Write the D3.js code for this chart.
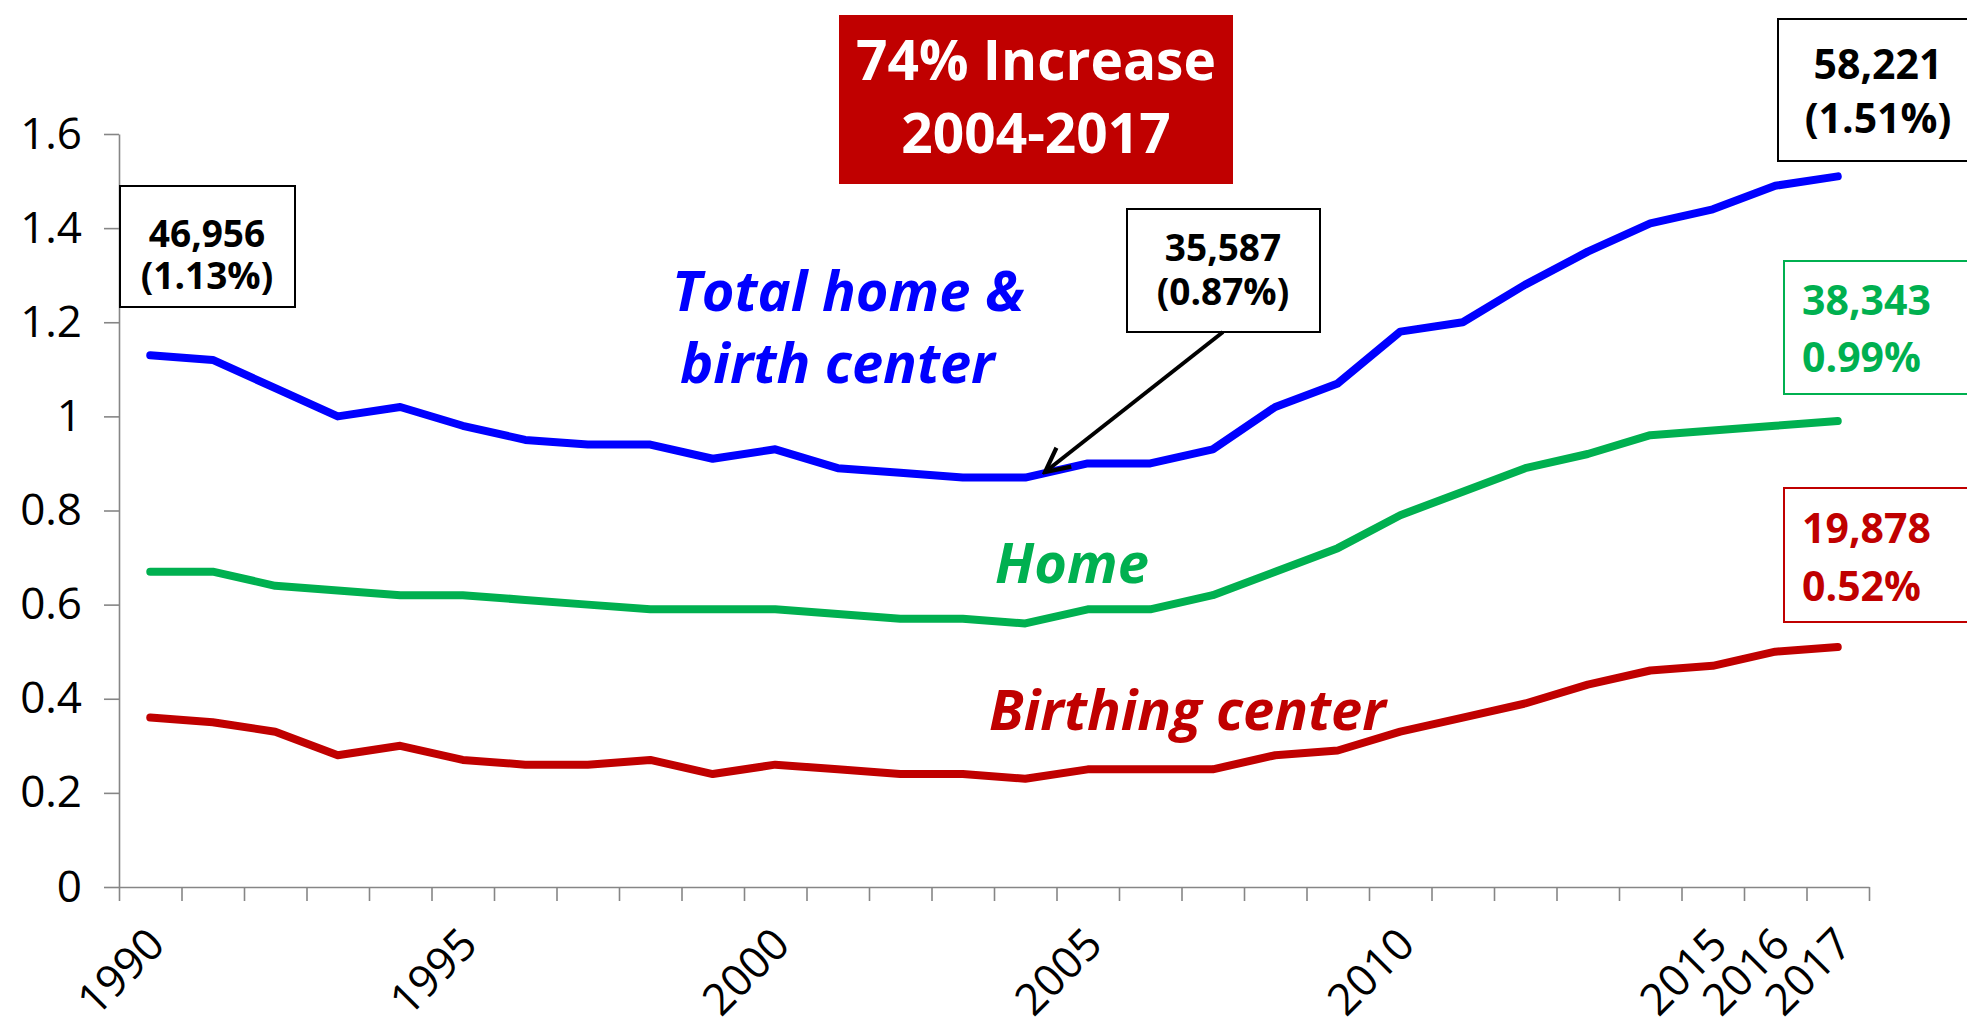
<!DOCTYPE html>
<html>
<head>
<meta charset="utf-8">
<script src="https://cdn.jsdelivr.net/npm/d3@7"></script>
<style>
body{margin:0;background:#fff}
svg{display:block;font-family:"Open Sans","Noto Sans",sans-serif}
</style>
</head>
<body>
<svg id="chart" width="1967" height="1017"></svg>
<script>
var years = [1990,1991,1992,1993,1994,1995,1996,1997,1998,1999,2000,2001,2002,2003,
             2004,2005,2006,2007,2008,2009,2010,2011,2012,2013,2014,2015,2016,2017]
var labelYears = [1990,1995,2000,2005,2010,2015,2016,2017]
// percent of all US births
var totalRate = [1.13,1.12,1.06,1.00,1.02,0.98,0.95,0.94,0.94,0.91,0.93,0.89,0.88,0.87,
                 0.87,0.90,0.90,0.93,1.02,1.07,1.18,1.20,1.28,1.35,1.41,1.44,1.49,1.51]
var homeRate = [0.67,0.67,0.64,0.63,0.62,0.62,0.61,0.60,0.59,0.59,0.59,0.58,0.57,0.57,
                0.56,0.59,0.59,0.62,0.67,0.72,0.79,0.84,0.89,0.92,0.96,0.97,0.98,0.99]
var centerRate = [0.36,0.35,0.33,0.28,0.30,0.27,0.26,0.26,0.27,0.24,0.26,0.25,0.24,0.24,
                  0.23,0.25,0.25,0.25,0.28,0.29,0.33,0.36,0.39,0.43,0.46,0.47,0.50,0.51]
var yTicks = [0,0.2,0.4,0.6,0.8,1,1.2,1.4,1.6]

var plotLeft = 119, plotRight = 1869, plotTop = 134, plotBottom = 887
var grey = "#868686"
var svg = d3.select("#chart")

var x = d3.scaleBand().domain(years).range([plotLeft,plotRight])
var xEdge = d3.scaleLinear().domain([0,years.length]).range([plotLeft,plotRight])
var y = d3.scaleLinear().domain([0,1.6]).range([plotBottom,plotTop])

function cx(yr){ return x(yr)+x.bandwidth()/2 }

// y axis
var gy = svg.append("g")
    .attr("transform","translate("+plotLeft+",0)")
    .call(d3.axisLeft(y).tickValues(yTicks).tickSize(15).tickSizeOuter(0).tickPadding(22)
        .tickFormat(function(d){ return d3.format("~g")(d) }))
gy.selectAll("path,line").attr("stroke",grey).attr("stroke-width",1.6)
gy.selectAll("text").attr("font-size",44).attr("fill","#000").attr("font-family","Open Sans")

// x axis (ticks between categories)
var gx = svg.append("g")
    .attr("transform","translate(0,"+plotBottom+")")
    .call(d3.axisBottom(xEdge).tickValues(d3.range(0,years.length+1)).tickSize(14)
        .tickSizeOuter(0).tickFormat(""))
gx.selectAll("path,line").attr("stroke",grey).attr("stroke-width",1.6)

svg.selectAll(".xlab")
    .data(labelYears)
    .enter()
    .append("text")
    .attr("class","xlab")
    .attr("transform",function(d){ return "translate("+(cx(d)+6)+",936) rotate(-45)" })
    .attr("text-anchor","end")
    .attr("dy","0.35em")
    .attr("font-size",44)
    .text(function(d){ return d })

// lines
var line = d3.line()
    .x(function(d,i){ return cx(years[i]) })
    .y(function(d){ return y(d) })

var series = [
    {vals:centerRate, color:"#C00000"},
    {vals:homeRate, color:"#00B050"},
    {vals:totalRate, color:"#0000FF"}
]
svg.selectAll(".series")
    .data(series)
    .enter()
    .append("path")
    .attr("class","series")
    .attr("d",function(d){ return line(d.vals) })
    .attr("fill","none")
    .attr("stroke",function(d){ return d.color })
    .attr("stroke-width",8)
    .attr("stroke-linecap","round")
    .attr("stroke-linejoin","round")

// series names
function italicLabel(txt,px,py,color){
    svg.append("text").text(txt).attr("x",px).attr("y",py)
        .attr("fill",color).attr("font-size",56).attr("font-weight","bold").attr("font-style","italic")
}
italicLabel("Total home &",672,311,"#0000FF")
italicLabel("birth center",680,383,"#0000FF")
italicLabel("Home",995,583,"#00B050")
italicLabel("Birthing center",989,730,"#C00000")

// title box
svg.append("rect").attr("x",839).attr("y",15).attr("width",394).attr("height",169).attr("fill","#C00000")
svg.append("text").text("74% Increase").attr("x",1036).attr("y",80)
    .attr("text-anchor","middle").attr("fill","#fff").attr("font-size",55).attr("font-weight","bold")
svg.append("text").text("2004-2017").attr("x",1036).attr("y",153)
    .attr("text-anchor","middle").attr("fill","#fff").attr("font-size",55).attr("font-weight","bold")

// callout boxes
function callout(bx,by,bw,bh,stroke,lines,tx,anchor,color,size){
    svg.append("rect").attr("x",bx).attr("y",by).attr("width",bw).attr("height",bh)
        .attr("fill","#fff").attr("stroke",stroke).attr("stroke-width",2)
    for(var i in lines){
        svg.append("text").text(lines[i].t).attr("x",tx).attr("y",lines[i].y)
            .attr("text-anchor",anchor).attr("fill",color)
            .attr("font-size",size).attr("font-weight","bold")
    }
}
callout(120,186,175,121,"#000",[{t:"46,956",y:247},{t:"(1.13%)",y:289}],207,"middle","#000",37)
callout(1127,209,193,123,"#000",[{t:"35,587",y:261},{t:"(0.87%)",y:305}],1223,"middle","#000",37)
callout(1778,19,260,142,"#000",[{t:"58,221",y:79},{t:"(1.51%)",y:133}],1878,"middle","#000",41)
callout(1784,261,260,133,"#00B050",[{t:"38,343",y:315},{t:"0.99%",y:372}],1802,"start","#00B050",41)
callout(1784,488,260,134,"#C00000",[{t:"19,878",y:543},{t:"0.52%",y:601}],1802,"start","#C00000",41)

// arrow to 2004 low
svg.append("defs").append("marker")
    .attr("id","arrow")
    .attr("viewBox","0 0 10 10")
    .attr("refX",9).attr("refY",5)
    .attr("markerWidth",30).attr("markerHeight",30)
    .attr("markerUnits","userSpaceOnUse")
    .attr("orient","auto")
    .append("path")
    .attr("d","M1,1 L9,5 L1,9")
    .attr("fill","none").attr("stroke","#000").attr("stroke-width",1.4)
svg.append("line")
    .attr("x1",1223).attr("y1",332).attr("x2",1045).attr("y2",472)
    .attr("stroke","#000").attr("stroke-width",4)
    .attr("marker-end","url(#arrow)")
</script>
</body>
</html>
